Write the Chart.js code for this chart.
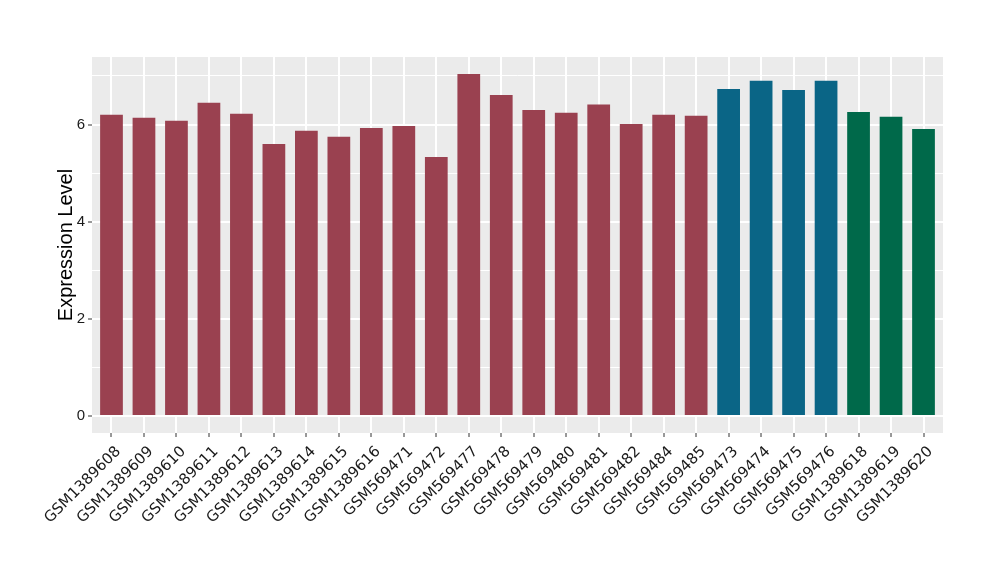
<!DOCTYPE html>
<html>
<head>
<meta charset="utf-8">
<script src="https://cdn.jsdelivr.net/npm/chart.js@4.4.0/dist/chart.umd.min.js"></script>
<style>
  html, body { margin: 0; padding: 0; background: #fff; }
</style>
</head>
<body>
<canvas id="chart" width="1000" height="580"></canvas>
<script>
// sample names along the x axis
const samples = [
  'GSM1389608', 'GSM1389609', 'GSM1389610', 'GSM1389611', 'GSM1389612',
  'GSM1389613', 'GSM1389614', 'GSM1389615', 'GSM1389616', 'GSM569471',
  'GSM569472', 'GSM569477', 'GSM569478', 'GSM569479', 'GSM569480',
  'GSM569481', 'GSM569482', 'GSM569484', 'GSM569485', 'GSM569473',
  'GSM569474', 'GSM569475', 'GSM569476', 'GSM1389618', 'GSM1389619',
  'GSM1389620'
];

// expression level
const expression = [
  6.20, 6.14, 6.08, 6.45, 6.22,
  5.60, 5.87, 5.75, 5.93, 5.97,
  5.33, 7.04, 6.61, 6.30, 6.24,
  6.41, 6.01, 6.20, 6.18, 6.73,
  6.90, 6.71, 6.90, 6.26, 6.16,
  5.91
];

// group of each sample (0 = red, 1 = blue, 2 = green)
const groups = [
  0, 0, 0, 0, 0, 0, 0, 0, 0, 0, 0, 0, 0, 0, 0, 0, 0, 0, 0,
  1, 1, 1, 1,
  2, 2, 2
];

const groupColors = ['#9A4150', '#0A6586', '#00694A'];
const yTicks = [0, 1, 2, 3, 4, 5, 6, 7];

// grey panel behind the plot like ggplot
const panelBg = {
  id: 'panelBg',
  beforeDraw(chart) {
    const { ctx, chartArea: a } = chart;
    ctx.save();
    ctx.fillStyle = '#EBEBEB';
    ctx.fillRect(a.left, a.top, a.right - a.left, a.bottom - a.top);
    ctx.restore();
  }
};

const isMajor = (c) => c.tick && c.tick.value % 2 === 0;

new Chart(document.getElementById('chart'), {
  type: 'bar',
  data: {
    datasets: [{
      data: expression.map((v, i) => ({ x: i, y: v })),
      backgroundColor: groups.map(g => groupColors[g]),
      borderWidth: 0,
      categoryPercentage: 0.7,
      barPercentage: 1.0
    }]
  },
  options: {
    responsive: false,
    animation: false,
    devicePixelRatio: 1,
    layout: { padding: { left: 0, top: 57, right: 57, bottom: 0 } },
    plugins: {
      legend: { display: false },
      tooltip: { enabled: false }
    },
    scales: {
      x: {
        type: 'linear',
        min: -0.6,
        max: samples.length - 0.4,
        offset: false,
        afterBuildTicks(scale) {
          scale.ticks = samples.map((s, i) => ({ value: i }));
        },
        grid: {
          offset: false,
          color: '#FFFFFF',
          lineWidth: 2,
          drawTicks: true,
          tickLength: 4,
          tickColor: '#333333',
          tickWidth: 1
        },
        border: { display: false },
        ticks: {
          autoSkip: false,
          minRotation: 45,
          maxRotation: 45,
          padding: 6,
          labelOffset: 7,
          color: '#1a1a1a',
          font: { family: 'DejaVu Sans', size: 15 },
          callback: (v) => samples[v]
        },
        afterFit(scale) { scale.height = 147; }
      },
      y: {
        min: -0.35,
        max: 7.39,
        afterBuildTicks(scale) {
          scale.ticks = yTicks.map(v => ({ value: v }));
        },
        grid: {
          color: '#FFFFFF',
          lineWidth: (c) => isMajor(c) ? 2 : 1,
          drawTicks: true,
          tickLength: 4,
          tickColor: (c) => isMajor(c) ? '#333333' : 'rgba(0,0,0,0)',
          tickWidth: 1
        },
        border: { display: false },
        ticks: {
          padding: 3,
          color: '#1a1a1a',
          font: { family: 'Liberation Sans', size: 15 },
          callback: (v) => v % 2 === 0 ? v : ''
        },
        title: {
          display: true,
          text: 'Expression Level',
          color: '#000000',
          font: { family: 'Liberation Sans', size: 20 },
          padding: { top: 54, bottom: 0 }
        },
        afterFit(scale) { scale.width = 92; }
      }
    }
  },
  plugins: [panelBg]
});
</script>
</body>
</html>
